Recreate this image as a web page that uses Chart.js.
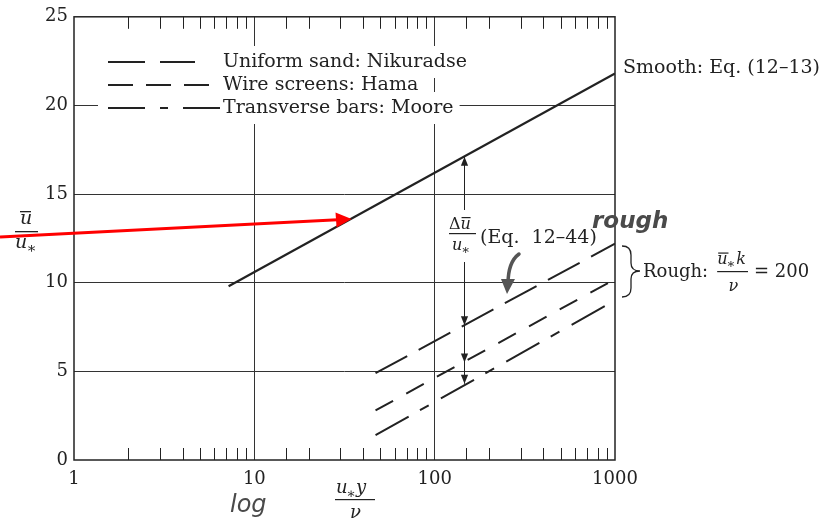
<!DOCTYPE html>
<html>
<head>
<meta charset="utf-8">
<script src="https://cdn.jsdelivr.net/npm/chart.js@4"></script>
<style>
  html, body { margin: 0; padding: 0; background: #fff; }
  #wrap { width: 821px; height: 528px; position: relative; }
</style>
</head>
<body>
<div id="wrap"><canvas id="chart"></canvas></div>
<script>
// values (x is u*y/nu on a log axis, y is u/u*)
const smoothX = [7.2, 1000];
const smoothY = [9.8, 21.8];
const roughX = [47, 1000];
const nikuradseY = [4.9, 12.2];
const hamaY = [2.8, 10.2];
const mooreY = [1.4, 9.0];
const majorX = [1, 10, 100, 1000];
const legendLabels = ['Uniform sand: Nikuradse', 'Wire screens: Hama', 'Transverse bars: Moore'];

// delta-u arrow: x position, top (smooth line) and the three rough lines below
const deltaX = 145;
const deltaTop = 17.1;
const deltaStops = [7.6, 5.5, 4.3];

const SERIF = '"DejaVu Serif", "Liberation Serif", serif';
const INK = '#222';

const pts = (xs, ys) => xs.map((x, i) => ({ x, y: ys[i] }));

function arrowHead(ctx, x, y, dir, size) {
  // dir: 1 = pointing down, -1 = pointing up
  ctx.beginPath();
  ctx.moveTo(x, y);
  ctx.lineTo(x - size * 0.4, y - dir * size);
  ctx.lineTo(x + size * 0.4, y - dir * size);
  ctx.closePath();
  ctx.fill();
}

function uStar(ctx, x, y, size, bar) {
  // italic u with a subscript asterisk; optional overline
  ctx.font = 'italic ' + size + 'px ' + SERIF;
  ctx.textAlign = 'left';
  ctx.textBaseline = 'alphabetic';
  ctx.fillText('u', x, y);
  const w = ctx.measureText('u').width;
  if (bar) {
    ctx.fillRect(x + 1, y - size * 0.72, w, 1.2);
  }
  ctx.font = Math.round(size * 0.8) + 'px ' + SERIF;
  ctx.fillText('\u2217', x + w - 1, y + size * 0.25);
  return w + ctx.measureText('\u2217').width - 1;
}

const decorations = {
  id: 'decorations',
  afterDraw(chart) {
    const { ctx, chartArea: a, scales: { x, y } } = chart;
    ctx.save();
    ctx.fillStyle = INK;
    ctx.strokeStyle = INK;

    // frame
    ctx.lineWidth = 1.5;
    ctx.strokeRect(a.left, a.top, a.right - a.left, a.bottom - a.top);

    // inward minor ticks top and bottom
    ctx.lineWidth = 1;
    x.ticks.forEach(t => {
      if (majorX.includes(t.value)) return;
      const px = Math.round(x.getPixelForValue(t.value)) + 0.5;
      ctx.beginPath();
      ctx.moveTo(px, a.top); ctx.lineTo(px, a.top + 12);
      ctx.moveTo(px, a.bottom); ctx.lineTo(px, a.bottom - 12);
      ctx.stroke();
    });

    // legend (white knockout behind each row, gridlines disappear there)
    const rows = [62, 85, 108];
    const dashes = [[37, 15], [25, 13], [37, 15, 8, 15]];
    const sampleEnd = [195, 210, 222];
    ctx.font = '19px ' + SERIF;
    ctx.textBaseline = 'middle';
    ctx.textAlign = 'left';
    rows.forEach((ry, i) => {
      const w = ctx.measureText(legendLabels[i]).width;
      ctx.fillStyle = '#fff';
      ctx.fillRect(98, ry - 16, 223 + w + 6 - 98, 32);
    });
    ctx.fillStyle = INK;
    ctx.lineWidth = 2;
    rows.forEach((ry, i) => {
      ctx.setLineDash(dashes[i]);
      ctx.beginPath();
      ctx.moveTo(108, ry); ctx.lineTo(sampleEnd[i], ry);
      ctx.stroke();
      ctx.setLineDash([]);
      ctx.fillText(legendLabels[i], 223, ry);
    });

    // right side labels
    ctx.fillText('Smooth: Eq. (12\u201313)', 623, 68);

    // brace + rough label
    ctx.lineWidth = 1.3;
    ctx.beginPath();
    ctx.moveTo(622, 246);
    ctx.quadraticCurveTo(631, 246, 631, 255);
    ctx.lineTo(631, 263);
    ctx.quadraticCurveTo(631, 271, 640, 271);
    ctx.quadraticCurveTo(631, 271, 631, 279);
    ctx.lineTo(631, 288);
    ctx.quadraticCurveTo(631, 297, 622, 297);
    ctx.stroke();
    ctx.font = '18px ' + SERIF;
    ctx.fillText('Rough:', 643, 272);
    const fx = 643 + ctx.measureText('Rough:').width + 9;
    ctx.textBaseline = 'alphabetic';
    const nw = uStar(ctx, fx, 264, 16, true);
    ctx.font = 'italic 16px ' + SERIF;
    ctx.fillText('k', fx + nw + 1, 264);
    const fw = nw + ctx.measureText('k').width + 3;
    ctx.fillRect(fx, 271, fw, 1.2);
    ctx.fillText('\u03bd', fx + fw / 2 - 4, 291);
    ctx.font = '18px ' + SERIF;
    ctx.textBaseline = 'middle';
    ctx.fillText('= 200', fx + fw + 6, 272);

    // delta-u double arrows
    const ax = Math.round(x.getPixelForValue(deltaX)) + 0.5;
    const top = y.getPixelForValue(deltaTop);
    ctx.lineWidth = 1;
    ctx.beginPath();
    ctx.moveTo(ax, top); ctx.lineTo(ax, 210);
    ctx.moveTo(ax, 262); ctx.lineTo(ax, y.getPixelForValue(deltaStops[deltaStops.length - 1]));
    ctx.stroke();
    arrowHead(ctx, ax, top, -1, 9);
    deltaStops.forEach(v => arrowHead(ctx, ax, y.getPixelForValue(v), 1, 9));

    // delta-u / u* label
    ctx.textBaseline = 'alphabetic';
    ctx.font = '16px ' + SERIF;
    ctx.fillText('\u0394', 449, 229);
    const dw = ctx.measureText('\u0394').width;
    ctx.font = 'italic 16px ' + SERIF;
    ctx.fillText('u', 449 + dw, 229);
    ctx.fillRect(449 + dw + 1, 217, 9, 1.2);
    ctx.fillRect(449, 233, 27, 1.2);
    uStar(ctx, 452, 250, 16, false);
    ctx.font = '19px ' + SERIF;
    ctx.textBaseline = 'middle';
    ctx.fillText('(Eq.  12\u201344)', 480, 238);

    // y axis title
    ctx.textBaseline = 'alphabetic';
    ctx.font = 'italic 19px ' + SERIF;
    ctx.fillText('u', 20, 224);
    ctx.fillRect(20, 211, 11, 1.3);
    ctx.fillRect(15, 231, 23, 1.3);
    uStar(ctx, 15, 248, 19, false);

    // x axis title
    const xw = uStar(ctx, 336, 493, 18, false);
    ctx.font = 'italic 18px ' + SERIF;
    ctx.fillText('y', 336 + xw, 493);
    ctx.fillRect(335, 499, 40, 1.2);
    ctx.fillText('\u03bd', 350, 518);

    // handwritten notes
    ctx.fillStyle = '#4a4a4a';
    ctx.font = 'italic bold 23px "DejaVu Sans", sans-serif';
    ctx.fillText('rough', 592, 228);
    ctx.font = 'italic 24px "DejaVu Sans", sans-serif';
    ctx.fillText('log', 230, 512);
    ctx.strokeStyle = '#555';
    ctx.lineWidth = 3.5;
    ctx.lineCap = 'round';
    ctx.beginPath();
    ctx.moveTo(519, 254);
    ctx.quadraticCurveTo(508, 262, 508, 284);
    ctx.stroke();
    ctx.fillStyle = '#555';
    ctx.beginPath();
    ctx.moveTo(501, 279); ctx.lineTo(515, 279); ctx.lineTo(507, 294);
    ctx.closePath();
    ctx.fill();

    // red pointer arrow
    const tipX = x.getPixelForValue(34.6), tipY = y.getPixelForValue(13.6);
    ctx.strokeStyle = '#ff0000';
    ctx.fillStyle = '#ff0000';
    ctx.lineWidth = 3;
    ctx.lineCap = 'butt';
    ctx.beginPath();
    ctx.moveTo(0, 237); ctx.lineTo(tipX - 14, tipY + 0.8);
    ctx.stroke();
    ctx.beginPath();
    ctx.moveTo(tipX, tipY);
    ctx.lineTo(tipX - 16, tipY - 6.5);
    ctx.lineTo(tipX - 15, tipY + 8.5);
    ctx.closePath();
    ctx.fill();

    ctx.restore();
  }
};

new Chart(document.getElementById('chart'), {
  type: 'scatter',
  data: {
    datasets: [
      { label: 'Smooth', data: pts(smoothX, smoothY), borderWidth: 2.2 },
      { label: legendLabels[0], data: pts(roughX, nikuradseY), borderDash: [36, 13] },
      { label: legendLabels[1], data: pts(roughX, hamaY), borderDash: [20, 15] },
      { label: legendLabels[2], data: pts(roughX, mooreY), borderDash: [38, 13, 10, 14] },
    ].map(d => Object.assign({
      showLine: true, borderColor: INK, borderWidth: 2, pointRadius: 0, borderCapStyle: 'butt'
    }, d)),
  },
  options: {
    responsive: true,
    maintainAspectRatio: false,
    animation: false,
    layout: { padding: { top: 15, right: 206, left: 0, bottom: 0 } },
    plugins: { legend: { display: false }, tooltip: { enabled: false } },
    scales: {
      x: {
        type: 'logarithmic',
        min: 1,
        max: 1000,
        afterFit: s => { s.height = 68; },
        border: { display: false },
        grid: {
          drawTicks: false,
          lineWidth: 1,
          color: c => (c.tick && [10, 100].includes(c.tick.value)) ? '#333' : 'rgba(0,0,0,0)',
        },
        ticks: {
          autoSkip: false,
          maxRotation: 0,
          padding: 9,
          color: INK,
          font: { family: SERIF, size: 18 },
          callback: v => majorX.includes(v) ? String(v) : '',
        },
      },
      y: {
        min: 0,
        max: 25,
        afterFit: s => { s.width = 74; },
        border: { display: false },
        grid: {
          drawTicks: false,
          lineWidth: 1,
          color: c => (c.tick && c.tick.value > 0 && c.tick.value < 25) ? '#333' : 'rgba(0,0,0,0)',
        },
        ticks: {
          stepSize: 5,
          padding: 6,
          color: INK,
          font: { family: SERIF, size: 18 },
        },
      },
    },
  },
  plugins: [decorations],
});
</script>
</body>
</html>
